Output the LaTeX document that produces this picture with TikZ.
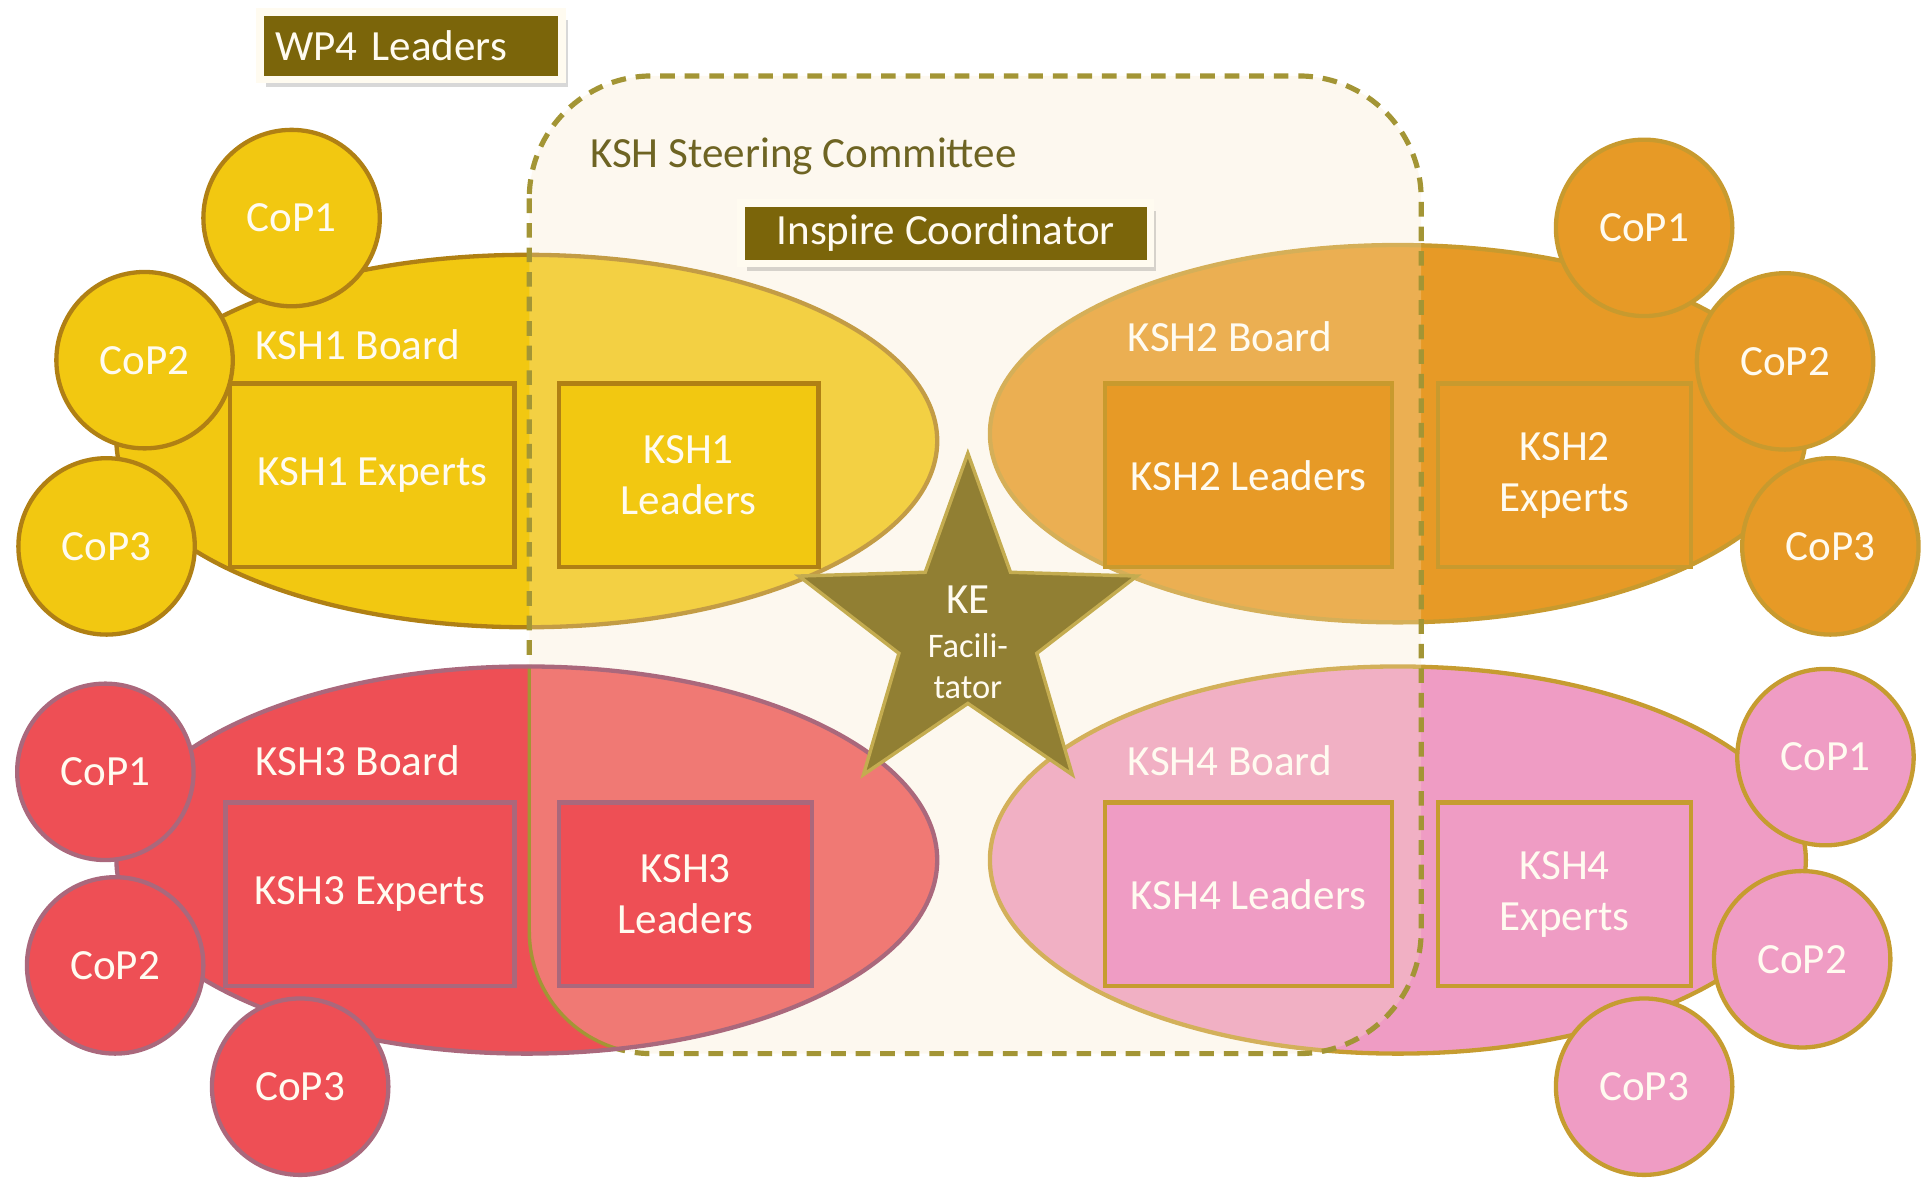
\documentclass[tikz,border=0pt]{standalone}
\usepackage{fontspec}
\setmainfont{Carlito}
\usetikzlibrary{shapes.geometric,shadows}
\definecolor{ksha}{RGB}{242,200,17}
\definecolor{kshaline}{RGB}{176,128,20}
\definecolor{kshb}{RGB}{231,154,38}
\definecolor{kshbline}{RGB}{200,154,46}
\definecolor{kshc}{RGB}{238,79,85}
\definecolor{kshcline}{RGB}{170,104,124}
\definecolor{kshd}{RGB}{239,156,196}
\definecolor{kshdline}{RGB}{198,156,48}
\definecolor{olivebox}{RGB}{123,101,10}
\definecolor{starfill}{RGB}{145,127,51}
\definecolor{starline}{RGB}{196,172,80}
\definecolor{dashcol}{RGB}{163,149,53}
\definecolor{steertext}{RGB}{110,100,35}
\definecolor{tint}{RGB}{247,231,199}
\definecolor{whitish}{RGB}{255,251,240}
\begin{document}
\begin{tikzpicture}[x=1cm,y=-1cm,
	every node/.style={font=\fontsize{10}{12}\selectfont,text=whitish},
	board/.style={ellipse,draw=#1line,fill=#1,line width=1pt,inner sep=0},
	cop/.style={circle,draw=#1line,fill=#1,line width=1pt,minimum size=1.44cm,inner sep=0},
	group/.style={rectangle,draw=#1line,fill=#1,line width=1pt,minimum height=1.5cm,inner sep=0,align=center},
	boardname/.style={anchor=west,inner sep=0},
	darkbox/.style={fill=olivebox,draw=whitish,line width=1.8pt,inner sep=0,
		drop shadow={shadow xshift=1.4pt,shadow yshift=-1.8pt,opacity=0.22,fill=black!70}},
	steer/.style={rounded corners=1cm}]
	\useasboundingbox (0,0) rectangle (15.68,9.62);
	\node[board=ksha,minimum width=6.70cm,minimum height=3.04cm] (b1) at (4.30,3.60) {};
	\node[board=kshb,minimum width=6.66cm,minimum height=3.08cm] (b2) at (11.41,3.54) {};
	\node[board=kshd,minimum width=6.66cm,minimum height=3.16cm] (b4) at (11.41,7.02) {};
	\foreach \g/\i/\x/\y in {ksha/1/2.38/1.78,ksha/2/1.18/2.94,ksha/3/0.87/4.46,
		kshb/1/13.42/1.86,kshb/2/14.57/2.95,kshb/3/14.94/4.46,
		kshd/1/14.90/6.18,kshd/2/14.71/7.83,kshd/3/13.42/8.87}
		\node[cop=\g] (\g-cop\i) at (\x,\y) {CoP\i};
	\coordinate (st1) at (4.32,0.62);
	\coordinate (st2) at (11.60,8.60);
	\fill[steer,tint,opacity=0.28] (st1) rectangle (st2);
	\draw[steer,dashcol,line width=1.2pt,dash pattern=on 3.4pt off 2.3pt] (st1) rectangle (st2);
	\node[board=kshc,minimum width=6.70cm,minimum height=3.16cm,
		path picture={\fill[steer,tint,opacity=0.28] (st1) rectangle (st2);
			\draw[steer,dashcol,line width=0.8pt] (st1) rectangle (st2);}] (b3) at (4.30,7.02) {};
	\foreach \i/\x/\y in {1/0.86/6.30,2/0.94/7.88,3/2.45/8.87}
		\node[cop=kshc] (kshc-cop\i) at (\x,\y) {CoP\i};
	\node[group=ksha,minimum width=2.32cm] (k1exp) at (3.04,3.88) {KSH1 Experts};
	\node[group=ksha,minimum width=2.12cm] (k1lead) at (5.62,3.88) {KSH1\\Leaders};
	\node[group=kshb,minimum width=2.34cm] (k2lead) at (10.19,3.88) {KSH2 Leaders};
	\node[group=kshb,minimum width=2.06cm] (k2exp) at (12.77,3.88) {KSH2\\Experts};
	\node[group=kshc,minimum width=2.36cm] (k3exp) at (3.02,7.30) {KSH3 Experts};
	\node[group=kshc,minimum width=2.07cm] (k3lead) at (5.595,7.30) {KSH3\\Leaders};
	\node[group=kshd,minimum width=2.34cm] (k4lead) at (10.19,7.30) {KSH4 Leaders};
	\node[group=kshd,minimum width=2.06cm] (k4exp) at (12.77,7.30) {KSH4\\Experts};
	\node[boardname] (n1) at (2.08,2.81) {KSH1 Board};
	\node[boardname] (n2) at (9.20,2.75) {KSH2 Board};
	\node[boardname] (n3) at (2.08,6.21) {KSH3 Board};
	\node[boardname] (n4) at (9.20,6.21) {KSH4 Board};
	\node[boardname,text=steertext] (sttitle) at (4.81,1.28) {KSH Steering Committee};
	\node[darkbox,minimum width=2.46cm,minimum height=0.55cm,text width=2.22cm,align=left] (wp4) at (3.355,0.375) {WP4 Leaders};
	\node[darkbox,minimum width=3.34cm,minimum height=0.49cm] (coord) at (7.72,1.905) {Inspire Coordinator};
	\node[star,star points=5,star point ratio=2.45,minimum size=2.9cm,inner sep=0,
		fill=starfill,draw=starline,line width=0.8pt] (ke) at (7.90,5.15) {};
	\node[align=center,font=\fontsize{8}{9.4}\selectfont] (ketext) at (7.90,5.24)
		{{\fontsize{10}{12}\selectfont KE}\\[1pt]Facili-\\tator};
\end{tikzpicture}
\end{document}
